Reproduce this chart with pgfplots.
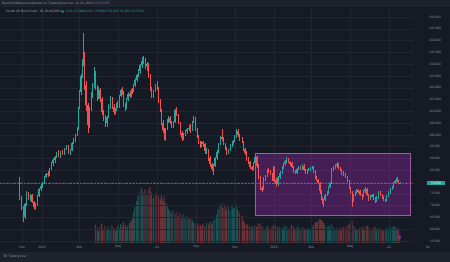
\documentclass[border=0pt]{standalone}
\usepackage{pgfplots}
\pgfplotsset{compat=1.18}
\usepackage{pgfplotstable}
\usepackage{fontspec}
\setmainfont{Liberation Sans}
\definecolor{bg}{HTML}{161A25}
\definecolor{strip}{HTML}{1E222D}
\definecolor{gridc}{HTML}{222633}
\definecolor{lab}{HTML}{8C909B}
\definecolor{upc}{HTML}{26A69A}
\definecolor{dnc}{HTML}{EF5350}
\definecolor{boxc}{HTML}{9C27B0}
\pgfplotstableread{
d o h l c v
-5 81.5 82.0 72.5 73.0 0
-2 73.0 74.0 68.0 69.0 0
1 69.0 70.0 63.1 65.0 0
4 65.0 71.0 64.5 70.5 0
6 70.5 76.0 70.0 75.2 0
9 75.2 75.8 72.5 73.5 0
12 73.5 75.0 72.0 74.5 0
15 74.5 75.0 71.0 71.5 0
18 71.5 72.0 68.5 69.5 0
20 69.5 71.0 68.0 70.8 0
23 70.8 74.5 70.0 74.0 0
26 74.0 77.5 73.5 77.0 0
29 77.0 79.0 76.0 78.5 0
31 78.5 80.0 77.5 79.5 0
34 79.5 82.5 79.0 82.0 0
37 82.0 84.0 81.5 83.5 0
40 83.5 84.5 82.0 83.0 0
43 83.0 86.0 82.5 85.5 0
46 85.5 88.5 85.0 88.0 0
48 88.0 90.0 87.0 89.3 0
51 89.3 91.0 88.0 90.5 0
54 90.5 92.8 90.0 92.3 0
57 92.3 93.5 90.5 91.0 0
60 91.0 93.0 90.0 92.5 0
63 92.5 93.5 91.5 92.0 0
66 92.0 94.5 91.5 94.0 0
69 94.0 95.5 93.5 95.0 0
72 95.0 95.5 92.0 93.0 0
75 93.0 94.0 91.5 93.6 0
78 93.6 97.0 93.0 96.5 0
80 96.5 98.5 96.0 97.8 0
83 97.8 100.5 97.0 100.0 0
86 100.0 103.5 99.5 102.5 0
88 102.5 112.0 102.0 111.5 0
90 111.5 119.0 111.0 118.0 0
92 118.0 126.0 117.0 125.0 0
94 125.0 132.0 124.0 130.5 0
96 130.5 143.2 129.0 134.0 0
98 134.0 135.0 119.0 121.0 0
100 121.0 123.0 110.0 112.5 0
103 112.5 113.5 100.8 104.0 0
106 104.0 112.0 103.0 111.0 0
108 111.0 118.0 110.0 117.0 0
110 117.0 122.0 115.5 121.0 0
113 121.0 128.8 120.0 126.0 0
115 126.0 127.0 119.0 120.0 18
118 120.0 121.0 114.5 116.1 15
120 116.1 120.5 115.0 119.0 12
122 119.0 120.0 114.0 115.0 16
125 115.0 116.0 108.5 109.5 19
127 109.5 110.5 106.0 107.6 14
130 107.6 108.5 103.3 105.0 17
133 105.0 108.0 103.5 107.5 13
135 107.5 113.0 107.0 112.0 16
138 112.0 116.5 111.0 115.5 14
141 115.5 116.0 111.0 112.0 18
144 112.0 113.0 108.5 109.5 15
146 109.5 111.5 108.8 111.0 12
148 111.0 113.5 110.0 113.0 14
150 113.0 114.5 111.5 112.0 17
153 112.0 117.0 111.5 116.5 15
155 116.5 119.5 116.0 119.0 19
157 119.0 120.5 117.0 118.0 16
159 118.0 118.5 112.0 113.0 21
162 113.0 113.5 110.3 111.5 18
164 111.5 115.5 111.0 115.0 15
166 115.0 118.0 114.5 117.5 17
169 117.5 118.5 115.5 116.5 20
171 116.5 119.5 116.0 119.0 22
173 119.0 120.0 117.5 118.5 24
175 118.5 121.5 118.0 121.0 30
177 121.0 124.0 120.5 123.3 36
180 123.3 126.0 122.5 125.5 42
182 125.5 128.0 124.5 127.0 47
185 127.0 130.0 126.0 129.5 52
188 129.5 133.0 128.5 131.5 55
190 131.5 133.5 130.0 132.0 50
193 132.0 132.5 128.0 129.0 54
196 129.0 131.0 127.0 130.0 48
198 130.0 130.5 124.0 125.0 53
201 125.0 126.0 118.5 119.5 56
203 119.5 120.5 115.5 117.0 50
206 117.0 119.0 115.8 118.5 45
209 118.5 121.5 118.0 121.0 48
212 121.0 122.8 119.0 120.0 52
214 120.0 120.5 113.5 114.5 47
217 114.5 115.0 109.5 110.5 44
219 110.5 111.0 104.0 105.0 49
221 105.0 106.5 101.0 102.1 42
223 102.1 103.0 97.8 99.5 46
225 99.5 103.0 97.5 102.5 40
228 102.5 106.8 102.0 106.0 38
230 106.0 108.0 105.0 107.0 34
232 107.0 107.8 104.5 105.5 32
235 105.5 106.0 102.8 103.5 30
237 103.5 106.0 103.0 105.5 33
240 105.5 111.0 105.0 110.5 28
242 110.5 111.8 108.0 108.5 31
245 108.5 109.0 104.5 105.0 27
248 105.0 105.5 100.0 101.0 30
251 101.0 101.5 97.5 98.5 26
253 98.5 101.0 97.8 100.5 29
256 100.5 102.0 99.5 101.5 25
259 101.5 103.0 100.5 102.5 27
262 102.5 104.0 101.5 103.0 24
264 103.0 104.5 101.0 102.0 26
267 102.0 106.0 101.5 105.5 23
269 105.5 108.0 105.0 107.0 21
272 107.0 107.5 101.5 102.5 19
275 102.5 103.0 98.5 99.5 20
277 99.5 100.0 96.0 97.0 17
280 97.0 97.5 94.5 95.5 18
282 95.5 97.5 95.0 97.0 16
284 97.0 97.5 95.0 96.0 19
287 96.0 96.5 92.0 93.0 17
290 93.0 94.5 92.0 93.5 20
293 93.5 94.0 89.0 90.0 18
295 90.0 91.0 86.5 87.5 21
298 87.5 88.0 84.5 85.5 19
300 85.5 87.5 83.0 87.0 22
303 87.0 90.5 86.5 90.0 24
306 90.0 93.5 89.5 92.8 28
308 92.8 96.5 92.5 96.0 34
311 96.0 99.5 95.5 99.0 37
314 99.0 102.5 97.5 98.5 40
316 98.5 99.0 95.5 96.0 35
319 96.0 96.5 93.5 94.5 38
321 94.5 95.0 91.5 92.5 33
324 92.5 94.0 91.8 93.5 36
327 93.5 96.0 93.0 95.5 32
330 95.5 97.5 95.0 96.5 37
332 96.5 98.0 95.5 97.5 34
334 97.5 100.0 97.0 99.0 35
337 99.0 102.5 98.5 101.5 38
339 101.5 102.5 99.0 100.0 33
342 100.0 100.5 97.5 98.0 30
346 98.0 99.0 96.5 97.0 27
348 97.0 97.5 93.0 94.0 22
350 94.0 94.5 91.5 92.5 20
353 92.5 93.0 89.0 90.0 18
355 90.0 90.5 87.5 88.5 19
358 88.5 89.0 85.5 86.5 16
361 86.5 87.0 84.5 85.5 17
363 85.5 88.5 85.0 88.0 15
366 88.0 91.0 87.5 90.5 18
369 90.5 91.0 86.0 87.0 16
371 87.0 87.5 81.5 82.0 20
374 82.0 82.5 76.5 77.5 19
377 77.5 78.5 75.8 77.0 17
379 77.0 82.0 76.5 81.5 15
382 81.5 83.0 80.5 82.5 14
385 82.5 85.5 82.0 85.0 17
387 85.0 86.0 84.0 84.5 15
390 84.5 85.0 83.0 83.8 13
393 83.8 84.0 80.5 81.0 16
395 81.0 86.8 80.5 86.0 18
397 86.0 86.5 80.0 81.0 20
399 81.0 81.5 77.9 79.0 17
402 79.0 82.5 78.5 82.0 15
405 82.0 84.5 81.5 84.0 16
409 84.0 86.8 83.5 86.5 14
411 86.5 88.0 85.5 87.5 15
413 87.5 89.5 87.0 89.0 17
416 89.0 90.5 88.0 89.5 16
418 89.5 90.2 88.0 88.5 14
421 88.5 89.0 87.0 88.0 15
424 88.0 88.5 86.0 86.5 18
427 86.5 87.0 84.0 84.5 16
429 84.5 85.0 83.5 84.0 14
432 84.0 86.0 83.5 85.5 15
434 85.5 87.0 85.0 86.5 17
437 86.5 87.0 85.0 85.5 13
440 85.5 87.5 85.0 87.0 15
443 87.0 87.5 84.5 85.0 16
445 85.0 85.5 83.5 84.0 14
448 84.0 85.5 83.5 85.0 13
450 85.0 86.0 84.5 85.5 15
453 85.5 86.5 84.5 86.0 14
456 86.0 87.0 85.5 86.5 16
458 86.5 87.0 84.0 84.5 18
461 84.5 85.0 81.5 82.0 21
463 82.0 82.5 80.5 81.0 20
465 81.0 81.5 79.0 79.6 22
468 79.6 80.0 75.0 76.0 24
470 76.0 76.5 72.5 73.0 23
472 73.0 73.5 70.5 71.5 22
474 71.5 73.0 69.4 72.5 20
476 72.5 75.0 72.0 74.5 18
480 74.5 76.0 74.0 75.4 16
482 75.4 78.5 75.0 78.0 17
484 78.0 80.0 77.5 79.5 15
486 79.5 86.0 79.0 85.5 19
489 85.5 87.0 84.5 86.5 16
492 86.5 87.5 85.5 87.0 14
495 87.0 88.5 86.0 87.5 15
497 87.5 88.0 85.5 86.0 13
500 86.0 86.5 84.5 85.0 15
502 85.0 85.5 83.0 84.0 14
505 84.0 84.5 82.5 83.0 16
508 83.0 84.0 81.5 82.0 15
511 82.0 82.5 80.0 80.9 17
514 80.9 81.0 77.0 77.5 19
516 77.5 78.0 75.0 75.8 18
519 75.8 76.0 69.4 72.0 22
521 72.0 75.0 71.5 74.5 17
524 74.5 76.0 74.0 75.4 15
526 75.4 77.0 75.0 76.5 14
528 76.5 77.2 75.5 76.0 13
531 76.0 76.5 74.0 74.5 15
535 74.5 75.0 72.5 73.7 16
537 73.7 76.5 73.5 76.0 14
539 76.0 78.0 75.5 77.2 15
542 77.2 77.5 74.0 74.5 17
544 74.5 75.0 72.0 72.8 16
547 72.8 74.5 72.5 74.0 14
550 74.0 75.0 73.5 74.5 13
552 74.5 75.0 72.5 73.0 15
555 73.0 73.5 71.0 71.8 16
557 71.8 74.0 71.5 73.5 14
560 73.5 76.0 73.0 75.4 15
563 75.4 76.0 74.0 74.5 13
566 74.5 75.0 73.0 73.7 14
568 73.7 74.0 72.0 72.5 12
571 72.5 73.0 71.5 72.0 13
573 72.0 74.5 71.8 74.0 15
576 74.0 76.0 73.5 75.5 14
579 75.5 77.5 75.0 77.0 16
582 77.0 78.5 76.5 78.0 15
584 78.0 80.0 77.5 79.5 17
586 79.5 81.0 79.0 80.5 16
588 80.5 81.9 80.0 81.5 14
590 81.5 82.0 80.0 80.5 15
592 80.5 81.0 79.0 79.5 13
594 79.2 80.1 79.0 79.6 8
}\data
\newcommand{\tv}{\fontsize{3.3}{4}\selectfont}
\pgfplotsset{
  upfilter/.style={x filter/.expression={\thisrow{c}>=\thisrow{o} ? x : nan}},
  dnfilter/.style={x filter/.expression={\thisrow{c}<\thisrow{o} ? x : nan}},
  candle/.style 2 args={#1, draw=none, no markers,
    error bars/.cd, y dir=both, y explicit, error mark=none,
    error bar style={draw=#1, line width=#2, line cap=butt}, /pgfplots/.cd}}
\begin{document}
\begin{tikzpicture}
\fill[bg] (0pt,0pt) rectangle (450pt,262pt);
\fill[strip] (0pt,255pt) rectangle (450pt,262pt);
\fill[strip] (0pt,0pt) rectangle (450pt,10pt);
\useasboundingbox (0pt,0pt) rectangle (450pt,262pt);
% volume
\begin{axis}[at={(0pt,19pt)}, anchor=south west, width=413pt, height=235pt, scale only axis,
  xmin=-35.1, xmax=614.8, ymin=0, ymax=235, hide axis]
\addplot[upfilter, ybar, bar shift=0pt, bar width=1.8, fill=upc, fill opacity=0.4, draw=none]
  table[x=d,y=v]{\data};
\addplot[dnfilter, ybar, bar shift=0pt, bar width=1.8, fill=dnc, fill opacity=0.4, draw=none]
  table[x=d,y=v]{\data};
\addplot[only marks, mark=*, mark size=1.4pt, draw=boxc, fill=boxc, fill opacity=0.5] coordinates {(594,6)};
\end{axis}
% price
\begin{axis}[at={(0pt,19pt)}, anchor=south west, width=413pt, height=235pt, scale only axis,
  xmin=-35.1, xmax=614.8, ymin=54.15, ymax=153.8,
  axis line style={draw=none}, major tick length=0pt,
  xtick={0,31,90,151,212,274,335,396,455,516,577},
  xticklabels={Dec,2022,Mar,May,Jul,Sep,Nov,2023,Mar,May,Jul},
  ytick={55,60,...,150}, yticklabel pos=right,
  /pgf/number format/assume math mode=true,
  yticklabel={\pgfmathprintnumber[fixed,precision=3,zerofill]{\tick}},
  grid=major, grid style={gridc, line width=0.35pt},
  tick label style={font=\tv, text=lab},
  xticklabel style={anchor=center, yshift=-4pt},
  yticklabel style={anchor=center, xshift=22pt}]
\addplot[fill=boxc, fill opacity=0.35, draw=boxc!70!white, draw opacity=0.8, line width=0.5pt]
  coordinates {(366,65.8) (610,65.8) (610,92.3) (366,92.3) (366,65.8)};
\addplot[upc, densely dotted, line width=0.4pt, opacity=0.7] coordinates {(-35.1,79.62) (614.8,79.62)};
% wicks
\addplot[upfilter, candle={upc}{0.35pt}]
  table[x=d, y expr={(\thisrow{h}+\thisrow{l})/2}, y error expr={(\thisrow{h}-\thisrow{l})/2}]{\data};
\addplot[dnfilter, candle={dnc}{0.35pt}]
  table[x=d, y expr={(\thisrow{h}+\thisrow{l})/2}, y error expr={(\thisrow{h}-\thisrow{l})/2}]{\data};
% bodies
\addplot[upfilter, candle={upc}{0.8pt}]
  table[x=d, y expr={(\thisrow{o}+\thisrow{c})/2}, y error expr={max(abs(\thisrow{c}-\thisrow{o})/2,0.15)}]{\data};
\addplot[dnfilter, candle={dnc}{0.8pt}]
  table[x=d, y expr={(\thisrow{o}+\thisrow{c})/2}, y error expr={max(abs(\thisrow{c}-\thisrow{o})/2,0.15)}]{\data};
\end{axis}
% texts
\node[anchor=west, font=\tv, text=lab, inner sep=0pt] at (2pt,258.5pt) {BlackBullMarkets published on TradingView.com, Jul 20, 2023 17:51 UTC};
\node[anchor=west, font=\tv, text=lab!80!white, inner sep=0pt] at (6pt,250pt) {Crude Oil Brent Cash, 1D, BLACKBULL};
\fill[upc] (63pt,250pt) circle (0.8pt);
\node[anchor=west, font=\tv, text=upc, inner sep=0pt] at (66pt,250pt) {O79.170 H80.100 L78.990 C79.620 +0.450 (+0.57\%)};
\node[fill=upc, text=white, font=\tv, inner sep=1pt, minimum width=18pt] at (436pt,79.07pt) {79.620};
\node[font=\tv, text=lab] at (428pt,15pt) {Se};
\node[anchor=west, font=\tv, text=lab, inner sep=0pt] at (3pt,5pt) {\textbf{TV} TradingView};
\end{tikzpicture}
\end{document}
